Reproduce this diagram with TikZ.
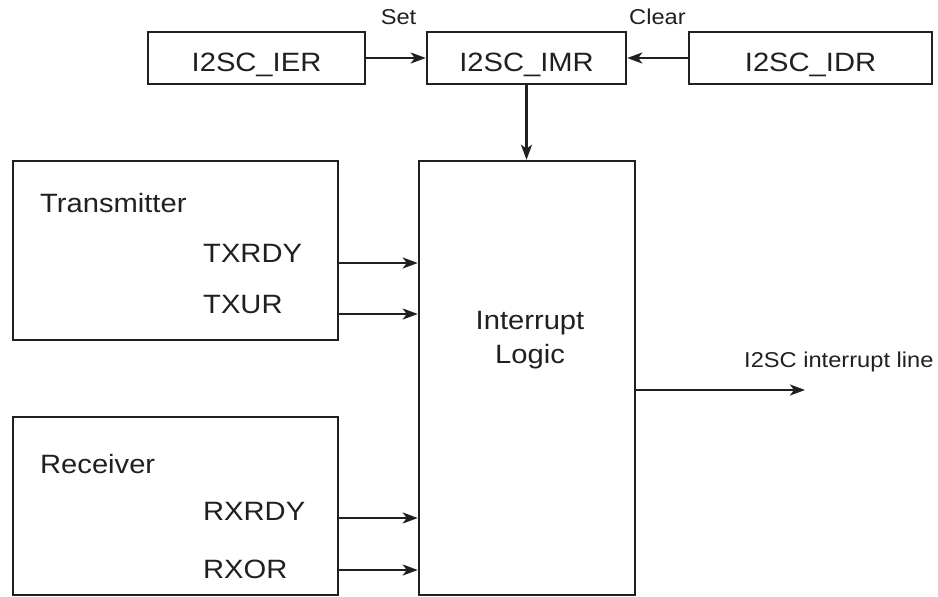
\documentclass[tikz,border=0pt]{standalone}
\usepackage{fontspec}
\setmainfont[FakeStretch=1.1]{Liberation Sans}
\usetikzlibrary{arrows.meta}
\definecolor{ink}{HTML}{231F20}
\begin{document}
\begin{tikzpicture}[x=1pt,y=-1pt,
  box/.style={draw=ink, line width=2.5pt, inner sep=0pt, fill=white},
  big/.style={inner sep=0pt, text=ink, font=\fontsize{26.5}{30}\selectfont},
  small/.style={inner sep=0pt, text=ink, font=\fontsize{21.5}{25}\selectfont},
  arr/.style={draw=ink, line width=2.5pt, -{Stealth[length=15pt,width=11pt,inset=4pt]}}]
\useasboundingbox (0,0) rectangle (938,597);
% register boxes
\node[box, minimum width=217pt, minimum height=52pt] (ier) at (256.5,58) {};
\node[box, minimum width=199pt, minimum height=52pt] (imr) at (526.5,58) {};
\node[box, minimum width=243pt, minimum height=52pt] (idr) at (810.5,58) {};
\node[big, anchor=base] (tier) at (256.5,71) {I2SC\_IER};
\node[big, anchor=base] (timr) at (526.5,71) {I2SC\_IMR};
\node[big, anchor=base] (tidr) at (810.5,71) {I2SC\_IDR};
\node[small, anchor=base] (set) at (398.5,24) {Set};
\node[small, anchor=base] (clr) at (657.5,24) {Clear};
% main blocks
\node[box, minimum width=216pt, minimum height=434pt] (logic) at (527,378) {};
\node[box, minimum width=325pt, minimum height=179pt] (tx) at (175.5,250.5) {};
\node[box, minimum width=325pt, minimum height=178pt] (rx) at (175.5,506) {};
\node[big, anchor=base] (l1) at (530,329) {Interrupt};
\node[big, anchor=base] (l2) at (530,363) {Logic};
\node[big, anchor=base west] (ttx) at (40,212) {Transmitter};
\node[big, anchor=base west] (ttxrdy) at (203,262) {TXRDY};
\node[big, anchor=base west] (ttxur) at (203,313) {TXUR};
\node[big, anchor=base west] (trx) at (40,473) {Receiver};
\node[big, anchor=base west] (trxrdy) at (203,520) {RXRDY};
\node[big, anchor=base west] (trxor) at (203,578) {RXOR};
\node[small, anchor=base west] (tout) at (744,367) {I2SC interrupt line};
\coordinate (out) at (805,390);
% connectors
\draw[arr] (ier.east) -- (imr.west);
\draw[arr] (idr.west) -- (imr.east);
\draw[arr] (imr.south) -- (imr.south |- logic.north);
\draw[arr] (tx.east |- 0,263) -- (logic.west |- 0,263);
\draw[arr] (tx.east |- 0,314) -- (logic.west |- 0,314);
\draw[arr] (rx.east |- 0,518) -- (logic.west |- 0,518);
\draw[arr] (rx.east |- 0,570) -- (logic.west |- 0,570);
\draw[arr] (logic.east |- out) -- (out);
\end{tikzpicture}
\end{document}
